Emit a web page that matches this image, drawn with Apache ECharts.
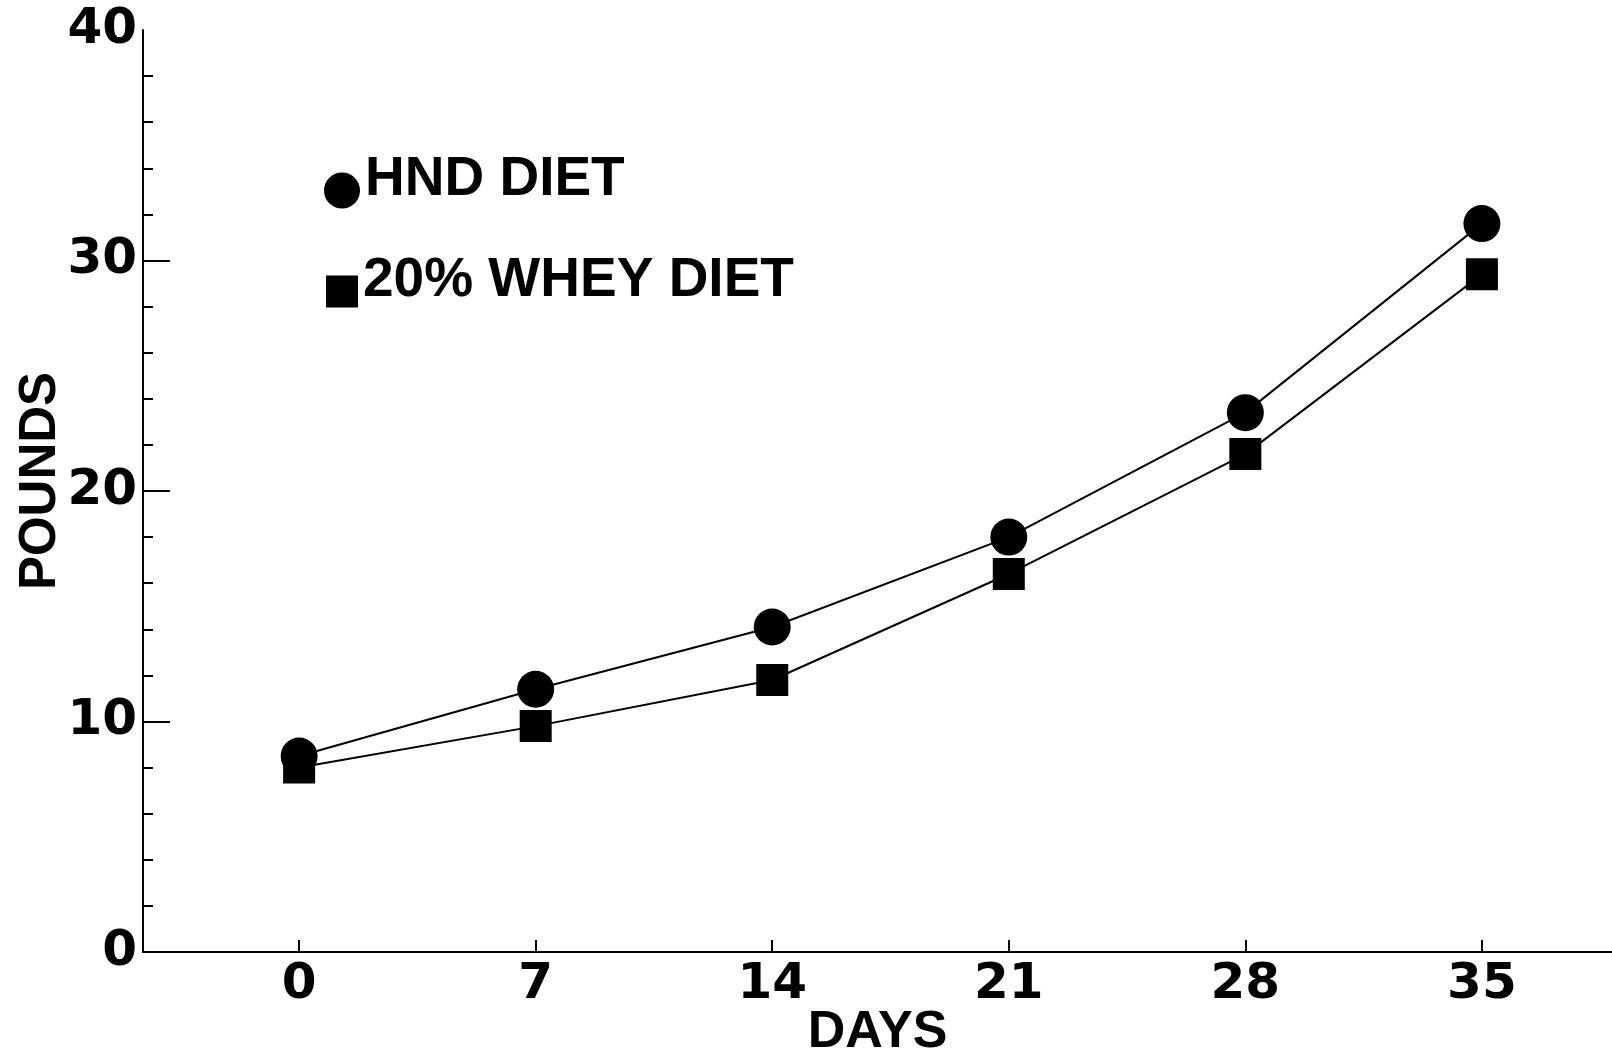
<!DOCTYPE html>
<html>
<head>
<meta charset="utf-8">
<script src="https://cdn.jsdelivr.net/npm/echarts@6/dist/echarts.min.js"></script>
<style>
html,body{margin:0;padding:0;background:#fff;}
#chart{width:1612px;height:1055px;}
</style>
</head>
<body>
<div id="chart"></div>
<script>
var days = [0, 7, 14, 21, 28, 35];
var hndDiet = [8.5, 11.4, 14.1, 18.0, 23.4, 31.6];
var wheyDiet = [8.0, 9.8, 11.8, 16.4, 21.6, 29.4];
var xTicks = [0, 7, 14, 21, 28, 35];
var yTicks = [0, 10, 20, 30, 40];

function pairs(xs, ys) { return xs.map(function (x, i) { return [x, ys[i]]; }); }

var numFont = 'DejaVu Sans';
var txtFont = 'Liberation Sans';

var legendText = {fontFamily: txtFont, fontWeight: 'bold', fontSize: 55, color: '#000',
  rich: {t: {fontFamily: txtFont, fontWeight: 'bold', fontSize: 55, color: '#000', padding: [0, 0, 22, 0]}}};

var chart = echarts.init(document.getElementById('chart'), null, {renderer: 'canvas'});
chart.setOption({
  animation: false,
  backgroundColor: '#ffffff',
  grid: {left: 143, right: 0, top: 30, bottom: 103, containLabel: false, outerBoundsMode: 'none'},
  legend: [
    {
      data: [{name: 'HND DIET', icon: 'circle'}], left: 319, top: 147, orient: 'vertical',
      itemWidth: 36, itemHeight: 36, itemGap: 0,
      formatter: function (n) { return '{t|' + n + '}'; },
      textStyle: legendText, selectedMode: false
    },
    {
      data: [{name: '20% WHEY DIET', icon: 'rect'}], left: 321, top: 248, orient: 'vertical',
      itemWidth: 32, itemHeight: 32, itemGap: 0,
      formatter: function (n) { return '{t|' + n + '}'; },
      textStyle: legendText, selectedMode: false
    }
  ],
  xAxis: {
    type: 'value', min: -4.62, max: 38.85,
    name: 'DAYS', nameLocation: 'middle', nameGap: 55, nameMoveOverlap: false,
    nameTextStyle: {fontFamily: txtFont, fontWeight: 'bold', fontSize: 52, color: '#000'},
    axisLine: {show: true, onZero: false, lineStyle: {color: '#000', width: 2}},
    axisTick: {show: true, inside: true, length: 12, customValues: xTicks, lineStyle: {color: '#000', width: 2}},
    axisLabel: {customValues: xTicks, margin: 8, fontFamily: numFont, fontWeight: 'bold', fontSize: 50, color: '#000'},
    splitLine: {show: false}
  },
  yAxis: {
    type: 'value', min: 0, max: 40, interval: 10,
    name: 'POUNDS', nameLocation: 'middle', nameGap: 77, nameRotate: 90, nameMoveOverlap: false,
    nameTextStyle: {fontFamily: txtFont, fontWeight: 'bold', fontSize: 51, color: '#000', padding: [0, 0, 0, 20]},
    axisLine: {show: true, onZero: false, lineStyle: {color: '#000', width: 2}},
    axisTick: {show: true, inside: true, length: 27, customValues: [10, 20, 30], lineStyle: {color: '#000', width: 2}},
    minorTick: {show: true, splitNumber: 5, length: 10, lineStyle: {color: '#000', width: 2}},
    axisLabel: {customValues: yTicks, margin: 6, fontFamily: numFont, fontWeight: 'bold', fontSize: 50, color: '#000'},
    splitLine: {show: false},
    minorSplitLine: {show: false}
  },
  series: [
    {
      name: '20% WHEY DIET', type: 'line', data: pairs(days, wheyDiet),
      symbol: 'rect', symbolSize: 32, showAllSymbol: true,
      lineStyle: {color: '#000', width: 2}, itemStyle: {color: '#000'}
    },
    {
      name: 'HND DIET', type: 'line', data: pairs(days, hndDiet),
      symbol: 'circle', symbolSize: 37, showAllSymbol: true,
      lineStyle: {color: '#000', width: 2}, itemStyle: {color: '#000'}
    }
  ]
});
</script>
</body>
</html>
